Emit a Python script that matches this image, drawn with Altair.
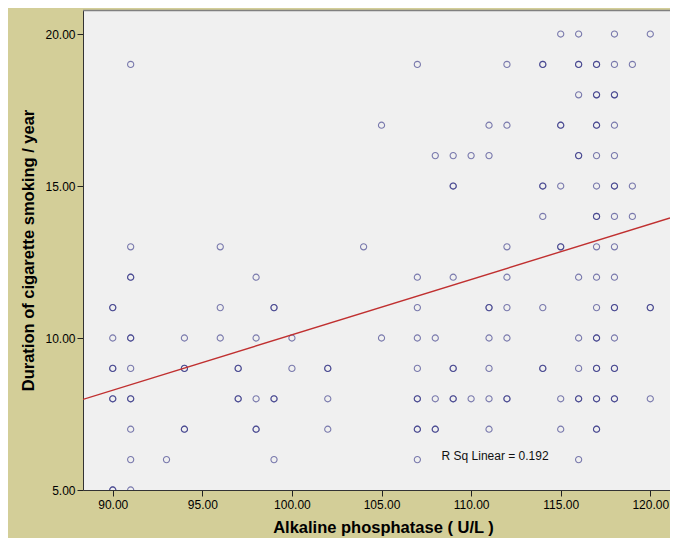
import altair as alt
import pandas as pd

# Alkaline phosphatase values per smoking-duration row (duplicates = overlapping points)
rows = {
    20: [115, 116, 118, 120],
    19: [91, 107, 112, 114, 114, 116, 116, 117, 117, 118, 119],
    18: [116, 117, 117, 118, 118],
    17: [105, 111, 112, 115, 115, 117, 117, 118],
    16: [108, 109, 110, 111, 116, 116, 117, 118],
    15: [109, 109, 114, 114, 115, 117, 118, 118, 119],
    14: [114, 117, 117, 118, 119],
    13: [91, 96, 104, 112, 115, 115, 117, 118],
    12: [91, 91, 98, 107, 109, 112, 116, 117, 118],
    11: [90, 90, 96, 99, 99, 107, 111, 111, 112, 114, 117, 118, 118, 120, 120],
    10: [90, 91, 91, 94, 96, 98, 100, 105, 107, 108, 111, 112, 116, 117, 117, 118],
    9: [90, 90, 91, 94, 94, 97, 97, 100, 102, 102, 107, 109, 109, 111, 114, 114, 116, 117, 117, 118, 118],
    8: [90, 90, 91, 91, 97, 97, 98, 99, 99, 102, 107, 107, 108, 109, 109, 110, 111, 112, 112, 115, 116, 116, 117, 117, 118, 118, 120],
    7: [91, 94, 94, 98, 98, 102, 107, 107, 108, 108, 111, 115, 117, 117],
    6: [91, 93, 99, 107, 116],
    5: [90, 90, 91],
}

alp = []
years = []
for yr, xs in rows.items():
    for v in xs:
        alp.append(v)
        years.append(yr)

x_domain = [88.34, 121.1]
y_domain = [5.0, 20.79]
x_ticks = [90, 95, 100, 105, 110, 115, 120]
y_ticks = [5, 10, 15, 20]

fit_x = [88.34, 121.1]
fit_y = [7.98, 13.95]

label_x = [108.35]
label_y = [6.12]
label_text = ["R Sq Linear = 0.192"]

pts = pd.DataFrame({"alp": alp, "years": years})
fit = pd.DataFrame({"alp": fit_x, "years": fit_y})
lab = pd.DataFrame({"alp": label_x, "years": label_y, "t": label_text})

xs = alt.Scale(domain=x_domain, nice=False, zero=False)
ys = alt.Scale(domain=y_domain, nice=False, zero=False)

x_axis = alt.Axis(
    values=x_ticks, format=".2f", title="Alkaline phosphatase ( U/L )",
    grid=False, labelFont="Liberation Sans", labelFontSize=12, labelColor="#000",
    tickColor="#222", tickSize=6, domainColor="#333", labelPadding=3,
    titleFont="Liberation Sans", titleFontSize=16.5, titleFontWeight="bold",
    titleColor="#000", titlePadding=9, titleX=300, titleAlign="center",
)
y_axis = alt.Axis(
    values=y_ticks, format=".2f", title="Duration of cigarette smoking / year",
    grid=False, labelFont="Liberation Sans", labelFontSize=12, labelColor="#000",
    tickColor="#222", tickSize=6, domainColor="#333", labelPadding=2,
    titleFont="Liberation Sans", titleFontSize=16.5, titleFontWeight="bold",
    titleColor="#000", titlePadding=8,
)

points = alt.Chart(pts).mark_point(
    shape="circle", filled=False, size=38, strokeWidth=1.1,
    color="#2b2b80", opacity=0.6, clip=True,
).encode(
    x=alt.X("alp:Q", scale=xs, axis=x_axis),
    y=alt.Y("years:Q", scale=ys, axis=y_axis),
)

line = alt.Chart(fit).mark_line(color="#c03030", strokeWidth=1.4, clip=True).encode(
    x=alt.X("alp:Q", scale=xs),
    y=alt.Y("years:Q", scale=ys),
)

text = alt.Chart(lab).mark_text(
    align="left", baseline="middle", font="Liberation Sans", fontSize=12, color="#111",
).encode(
    x=alt.X("alp:Q", scale=xs),
    y=alt.Y("years:Q", scale=ys),
    text="t:N",
)

top = alt.Chart(lab).mark_rule(color="#808080", strokeWidth=1.5).encode(
    y=alt.value(0.5)
)

chart = alt.layer(points, line, text, top).properties(
    width=587, height=480,
    autosize=alt.AutoSizeParams(type="none"),
    padding={"left": 75, "top": 2, "right": 0, "bottom": 48},
    background="#d3ce98",
).configure_view(fill="#f0f0f0", stroke=None)

chart.save("out.html", embed_options={"renderer": "svg", "actions": False})
